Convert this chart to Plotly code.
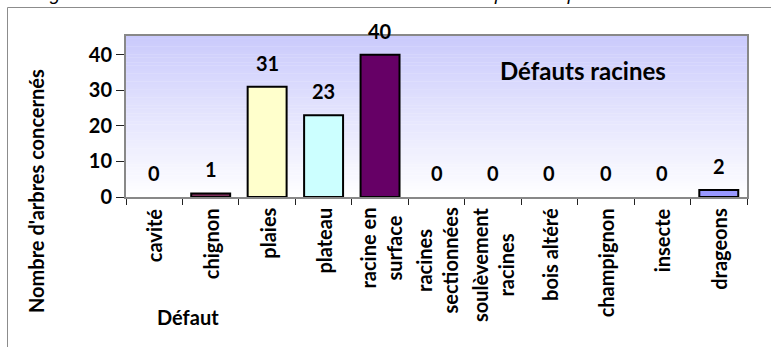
import plotly.graph_objects as go

categories = ["cavité", "chignon", "plaies", "plateau", "racine en surface",
              "racines sectionnées", "soulèvement racines", "bois altéré",
              "champignon", "insecte", "drageons"]
tick_labels = ["cavité", "chignon", "plaies", "plateau", "racine en<br>surface",
               "racines<br>sectionnées", "soulèvement<br>racines", "bois altéré",
               "champignon", "insecte", "drageons"]
values = [0, 1, 31, 23, 40, 0, 0, 0, 0, 0, 2]
bar_colors = ["#ffffff", "#7e2d5a", "#ffffcc", "#ccffff", "#660066",
              "#ffffff", "#ffffff", "#ffffff", "#ffffff", "#ffffff", "#9999ff"]
y_ticks = [0, 10, 20, 30, 40]

FONT = "Lato"
W, H = 771, 347
L, R, T, B = 126, 24, 36, 150
pw, ph = W - L - R, H - T - B

def px_x(px):
    return (px - L) / pw

def px_y(py):
    return (H - B - py) / ph

fig = go.Figure()
fig.add_trace(go.Bar(
    x=categories, y=values,
    marker=dict(color=bar_colors,
                line=dict(color="black", width=[2 if v > 0 else 0 for v in values])),
    hoverinfo="skip",
))

shapes = []
# gradient background of plot area
n = 60
c_top = (202, 202, 252)
for i in range(n):
    t = (i + 0.5) / n
    col = tuple(int(round(255 + (c - 255) * t)) for c in c_top)
    shapes.append(dict(type="rect", xref="paper", yref="paper",
                       x0=0, x1=1, y0=i / n, y1=(i + 1) / n + 0.002,
                       fillcolor="rgb(%d,%d,%d)" % col, line=dict(width=0),
                       layer="below"))
# outer chart frame
shapes.append(dict(type="rect", xref="paper", yref="paper",
                   x0=px_x(7.5), x1=px_x(W + 20), y0=px_y(H + 20), y1=px_y(7.5),
                   line=dict(color="#8c8c8c", width=1), fillcolor="rgba(0,0,0,0)",
                   layer="below"))

annotations = []
# value labels
for c, v in zip(categories, values):
    annotations.append(dict(x=c, y=v, xref="x", yref="y", text="<b>%d</b>" % v,
                            showarrow=False, yshift=24, yanchor="middle",
                            xanchor="center",
                            font=dict(family=FONT, size=20, color="black")))
# category labels (rotated, centred lines)
for c, t in zip(categories, tick_labels):
    annotations.append(dict(x=c, y=px_y(206), xref="x", yref="paper",
                            text="<b>%s</b>" % t, textangle=-90, align="center",
                            showarrow=False, yanchor="top", xanchor="center",
                            font=dict(family=FONT, size=20, color="black")))
annotations += [
    dict(x=px_x(583), y=px_y(70), xref="paper", yref="paper",
         xanchor="center", yanchor="middle",
         text="<b>Défauts racines</b>", showarrow=False,
         font=dict(family=FONT, size=24, color="black")),
    dict(x=px_x(36), y=px_y(191), xref="paper", yref="paper",
         xanchor="center", yanchor="middle",
         text="<b>Nombre d'arbres concernés</b>", textangle=-90, showarrow=False,
         font=dict(family=FONT, size=20, color="black")),
    dict(x=px_x(188), y=px_y(317), xref="paper", yref="paper",
         xanchor="center", yanchor="middle",
         text="<b>Défaut</b>", showarrow=False,
         font=dict(family=FONT, size=20, color="black")),
    dict(x=px_x(32), y=px_y(6), xref="paper", yref="paper", xanchor="left",
         yanchor="bottom",
         text="<i>Figure 10 : Nombre d'arbres selon le défaut relevé – répartition par secteur</i>",
         showarrow=False, font=dict(family="Liberation Sans", size=19, color="black")),
]

fig.update_layout(
    width=W, height=H,
    margin=dict(l=L, r=R, t=T, b=B),
    paper_bgcolor="white", plot_bgcolor="white",
    bargap=0.31, showlegend=False,
    shapes=shapes, annotations=annotations,
    xaxis=dict(showticklabels=False, ticks="outside", tickson="boundaries",
               ticklen=6, tickcolor="#222", tickwidth=1,
               showline=True, linecolor="#888", linewidth=2, mirror=True,
               showgrid=False, zeroline=False),
    yaxis=dict(range=[0, 45.3], tickvals=y_ticks, ticks="outside", ticklen=8,
               tickcolor="#222", tickwidth=1,
               tickfont=dict(family=FONT, size=20, color="black", weight="bold"),
               showline=True, linecolor="#888", linewidth=2, mirror=True,
               showgrid=False, zeroline=False),
)

fig.write_html("out.html")
